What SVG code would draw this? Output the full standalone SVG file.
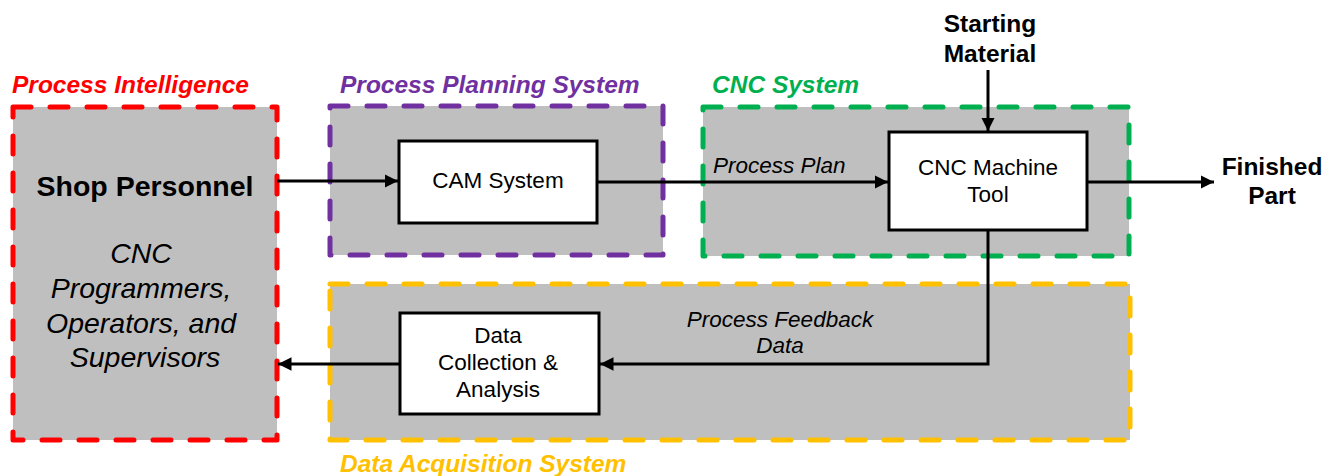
<svg xmlns="http://www.w3.org/2000/svg" width="1335" height="476" viewBox="0 0 1335 476">
  <style>
    .zone { fill: #BFBFBF; stroke-width: 5; stroke-dasharray: 18 19; stroke-linecap: round; stroke-linejoin: round; }
    .box { fill: #FFFFFF; stroke: #000000; stroke-width: 3; }
    .title { font-family: "Liberation Sans", Arial, sans-serif; font-size: 24.5px; font-weight: bold; font-style: italic; }
    .lbl { font-family: "Liberation Sans", Arial, sans-serif; font-size: 22.5px; fill: #000; text-anchor: middle; }
    .it { font-family: "Liberation Sans", Arial, sans-serif; font-size: 22.5px; font-style: italic; fill: #000; }
    .ext { font-family: "Liberation Sans", Arial, sans-serif; font-size: 24.5px; font-weight: bold; fill: #000; text-anchor: middle; }
    .big { font-family: "Liberation Sans", Arial, sans-serif; font-size: 28.5px; fill: #000; text-anchor: middle; }
    .wire { fill: none; stroke: #000; stroke-width: 3; marker-end: url(#arrow); }
  </style>
  <defs>
    <marker id="arrow" viewBox="0 0 10 10" refX="10" refY="5" markerWidth="4.5" markerHeight="4.5" orient="auto" markerUnits="strokeWidth">
      <path d="M0,0 L10,5 L0,10 z" fill="#000"/>
    </marker>
  </defs>

  <!-- system zones -->
  <g id="process-intelligence">
    <rect class="zone" x="13" y="107" width="264" height="333" stroke="#FF0000"/>
    <text class="title" x="12" y="93" fill="#FF0000">Process Intelligence</text>
  </g>
  <g id="process-planning-system">
    <rect class="zone" x="330" y="106" width="333" height="149" stroke="#7030A0"/>
    <text class="title" x="340" y="93" fill="#7030A0">Process Planning System</text>
  </g>
  <g id="cnc-system">
    <rect class="zone" x="703" y="107" width="426" height="149" stroke="#00B050"/>
    <text class="title" x="712" y="93" fill="#00B050">CNC System</text>
  </g>
  <g id="data-acquisition-system">
    <rect class="zone" x="330" y="284" width="800" height="156" stroke="#FFC000"/>
    <text class="title" x="340" y="472" fill="#FFC000">Data Acquisition System</text>
  </g>

  <!-- shop personnel -->
  <g id="shop-personnel">
    <text class="big" x="145" y="196" font-weight="bold">Shop Personnel</text>
    <text class="big" font-style="italic">
      <tspan x="145" y="263">CNC</tspan>
      <tspan x="145" y="298">Programmers,</tspan>
      <tspan x="145" y="333">Operators, and</tspan>
      <tspan x="145" y="367">Supervisors</tspan>
    </text>
  </g>

  <!-- functional blocks -->
  <g id="cam-system">
    <rect class="box" x="399" y="141" width="198" height="82"/>
    <text class="lbl" x="498" y="188">CAM System</text>
  </g>
  <g id="cnc-machine-tool">
    <rect class="box" x="889" y="132" width="198" height="98"/>
    <text class="lbl"><tspan x="988" y="175">CNC Machine</tspan><tspan x="988" y="202">Tool</tspan></text>
  </g>
  <g id="data-collection">
    <rect class="box" x="400" y="313" width="199" height="101"/>
    <text class="lbl"><tspan x="498" y="343">Data</tspan><tspan x="498" y="370">Collection &amp;</tspan><tspan x="498" y="397">Analysis</tspan></text>
  </g>

  <!-- external inputs and outputs -->
  <g id="starting-material">
    <text class="ext"><tspan x="990" y="32">Starting</tspan><tspan x="990" y="62">Material</tspan></text>
  </g>
  <g id="finished-part">
    <text class="ext"><tspan x="1272" y="175">Finished</tspan><tspan x="1272" y="204">Part</tspan></text>
  </g>

  <!-- connectors -->
  <g id="connectors">
    <line class="wire" x1="277" y1="181" x2="398" y2="181"/>
    <line class="wire" x1="597" y1="182" x2="888" y2="182"/>
    <line class="wire" x1="988" y1="70" x2="988" y2="131"/>
    <line class="wire" x1="1087" y1="182" x2="1214" y2="182"/>
    <polyline class="wire" points="988,230 988,364 600,364"/>
    <line class="wire" x1="400" y1="364" x2="278" y2="364"/>
    <text class="it" x="713" y="173">Process Plan</text>
    <text class="it" text-anchor="middle"><tspan x="780" y="327">Process Feedback</tspan><tspan x="780" y="353">Data</tspan></text>
  </g>
</svg>
